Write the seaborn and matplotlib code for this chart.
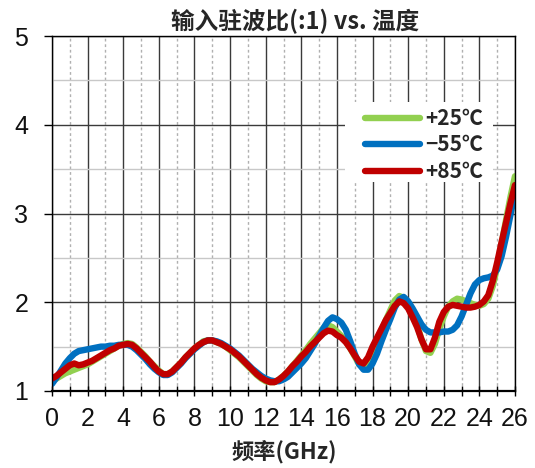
import matplotlib
matplotlib.use("Agg")
import matplotlib.pyplot as plt
from matplotlib.lines import Line2D
from matplotlib.patches import Rectangle
from matplotlib.ticker import MultipleLocator
from matplotlib.font_manager import FontProperties
import pandas as pd
import seaborn as sns

# Input VSWR versus frequency at three temperatures (0.25 GHz steps)
freq_ghz = [i * 0.25 for i in range(105)]

vswr_p25 = [
    1.12, 1.14, 1.17, 1.20, 1.22, 1.24, 1.26, 1.28, 1.30, 1.33, 1.36, 1.39,
    1.42, 1.45, 1.48, 1.51, 1.53, 1.54, 1.53, 1.49, 1.44, 1.39, 1.33, 1.28,
    1.23, 1.19, 1.19, 1.22, 1.27, 1.32, 1.38, 1.43, 1.48, 1.52, 1.56, 1.57,
    1.57, 1.55, 1.53, 1.50, 1.46, 1.42, 1.38, 1.33, 1.28, 1.23, 1.18, 1.14,
    1.11, 1.10, 1.10, 1.13, 1.17, 1.22, 1.28, 1.34,
    1.40, 1.46, 1.53, 1.59, 1.65, 1.71, 1.74, 1.72, 1.67, 1.62, 1.56, 1.48,
    1.39, 1.30, 1.28, 1.33, 1.43, 1.55, 1.68, 1.80, 1.91, 2.02, 2.07, 2.05,
    1.99, 1.88, 1.75, 1.58, 1.45, 1.43, 1.53, 1.70, 1.84, 1.95, 2.01, 2.04,
    2.03, 2.01, 1.99, 1.97, 1.96, 1.98, 2.04, 2.18, 2.40, 2.66, 2.93, 3.19,
    3.42,
]

vswr_m55 = [
    1.08, 1.15, 1.23, 1.31, 1.37, 1.42, 1.45, 1.46, 1.47, 1.48, 1.49, 1.50,
    1.50, 1.51, 1.51, 1.52, 1.52, 1.52, 1.50, 1.46, 1.41, 1.36, 1.30, 1.25,
    1.21, 1.18, 1.18, 1.21, 1.26, 1.31, 1.37, 1.42, 1.47, 1.51, 1.55, 1.57,
    1.57, 1.56, 1.54, 1.51, 1.48, 1.44, 1.40, 1.35, 1.30, 1.25, 1.21, 1.17,
    1.14, 1.12, 1.11, 1.11, 1.13, 1.16, 1.21, 1.26,
    1.31, 1.37, 1.45, 1.53, 1.62, 1.71, 1.79, 1.83, 1.81, 1.77, 1.69, 1.56,
    1.42, 1.30, 1.24, 1.24, 1.31, 1.42, 1.56, 1.69, 1.81, 1.94, 2.03, 2.06,
    2.01, 1.93, 1.84, 1.75, 1.69, 1.66, 1.66, 1.66, 1.67, 1.67, 1.69, 1.74,
    1.84, 1.97, 2.10, 2.20, 2.25, 2.27, 2.28, 2.30, 2.37, 2.52, 2.74, 2.99,
    3.25,
]

vswr_p85 = [
    1.14, 1.17, 1.21, 1.25, 1.29, 1.31, 1.29, 1.30, 1.32, 1.34, 1.37, 1.40,
    1.43, 1.46, 1.48, 1.51, 1.52, 1.53, 1.52, 1.48, 1.43, 1.38, 1.33, 1.27,
    1.22, 1.19, 1.19, 1.22, 1.27, 1.32, 1.38, 1.43, 1.48, 1.52, 1.55, 1.57,
    1.57, 1.55, 1.53, 1.50, 1.47, 1.43, 1.39, 1.34, 1.29, 1.24, 1.19, 1.15,
    1.12, 1.10, 1.10, 1.13, 1.17, 1.22, 1.28, 1.33,
    1.39, 1.44, 1.50, 1.55, 1.60, 1.65, 1.68, 1.67, 1.63, 1.60, 1.55, 1.48,
    1.40, 1.33, 1.31, 1.38, 1.50, 1.60, 1.70, 1.80, 1.88, 1.96, 2.01, 1.99,
    1.93, 1.83, 1.72, 1.58, 1.47, 1.47, 1.60, 1.78, 1.89, 1.95, 1.97, 1.96,
    1.95, 1.94, 1.94, 1.95, 1.97, 2.01, 2.08, 2.24, 2.45, 2.68, 2.90, 3.12,
    3.32,
]

series_labels = ["+25℃", "−55℃", "+85℃"]
series_colors = ["#92D050", "#0070C0", "#C00000"]
x_ticks = list(range(0, 27, 2))
y_ticks = [1, 2, 3, 4, 5]
title_text = "输入驻波比(:1) vs. 温度"
xlabel_text = "频率(GHz)"

sns.set_theme(style="white")
plt.rcParams["font.family"] = ["Liberation Sans", "Noto Sans CJK SC", "DejaVu Sans"]

df = pd.DataFrame({
    "freq": freq_ghz * 3,
    "vswr": vswr_p25 + vswr_m55 + vswr_p85,
    "temp": [series_labels[0]] * len(freq_ghz)
            + [series_labels[1]] * len(freq_ghz)
            + [series_labels[2]] * len(freq_ghz),
})

fig = plt.figure(figsize=(5.35, 4.68), dpi=100)
ax = fig.add_axes([52 / 535, 1 - 391 / 468, 463 / 535, 355 / 468])

sns.lineplot(data=df, x="freq", y="vswr", hue="temp", hue_order=series_labels,
             palette=series_colors, linewidth=4.6, estimator=None, sort=False,
             legend=False, ax=ax)
for ln in ax.lines:
    ln.set_solid_capstyle("round")
    ln.set_solid_joinstyle("round")

ax.set_xlim(0, 26)
ax.set_ylim(1, 5)
ax.set_axisbelow(True)
ax.xaxis.set_major_locator(MultipleLocator(2))
ax.xaxis.set_minor_locator(MultipleLocator(1))
ax.yaxis.set_major_locator(MultipleLocator(1))
ax.yaxis.set_minor_locator(MultipleLocator(0.5))
ax.set_xticks(x_ticks)
ax.set_yticks(y_ticks)

ax.grid(which="major", axis="x", color="#3a3a3a", lw=1.0, ls="-")
ax.grid(which="minor", axis="x", color="#b0b0b0", lw=1.0, ls=(0, (2, 2)))
ax.grid(which="major", axis="y", color="#3a3a3a", lw=1.0, ls="-")
ax.grid(which="minor", axis="y", color="#c8c8c8", lw=1.0, ls="-")

ax.tick_params(axis="x", which="both", direction="inout", length=7, width=1,
               color="black", bottom=True, pad=8, labelsize=18)
ax.tick_params(axis="y", which="major", direction="out", length=6, width=1,
               color="black", left=True, pad=11, labelsize=18)
ax.tick_params(axis="y", which="minor", length=0)
for lbl in ax.get_xticklabels() + ax.get_yticklabels():
    lbl.set_color("#111111")

for side in ["left", "right", "top", "bottom"]:
    ax.spines[side].set_color("black")
    ax.spines[side].set_linewidth(1.0)
ax.spines["bottom"].set_linewidth(1.6)
ax.set_xlabel("")
ax.set_ylabel("")

# white panel behind the legend hides the grid there
ax.add_patch(Rectangle((0.6328, 0.5887), 0.3197, 0.2254, transform=ax.transAxes,
                       facecolor="white", edgecolor="none", zorder=1))
handles = [Line2D([], [], color=c, lw=4.6, solid_capstyle="round") for c in series_colors]
ax.legend(handles, series_labels, loc="upper left", bbox_to_anchor=(0.677, 0.797),
          frameon=False, borderpad=0, borderaxespad=0, handlelength=2.6,
          handletextpad=0.28, labelspacing=0.26,
          prop=FontProperties(family=["Noto Sans CJK SC", "DejaVu Sans"],
                              weight="bold", size=15))

fig.text(295 / 535, 1 - 21 / 468, title_text, ha="center", va="center",
         fontsize=17, fontweight="bold", family=["Noto Sans CJK SC", "DejaVu Sans"])
fig.text(284 / 535, 1 - 452 / 468, xlabel_text, ha="center", va="center",
         fontsize=16, fontweight="bold", family=["Noto Sans CJK SC", "DejaVu Sans"])

fig.savefig("out.png", dpi=100, facecolor="white")
